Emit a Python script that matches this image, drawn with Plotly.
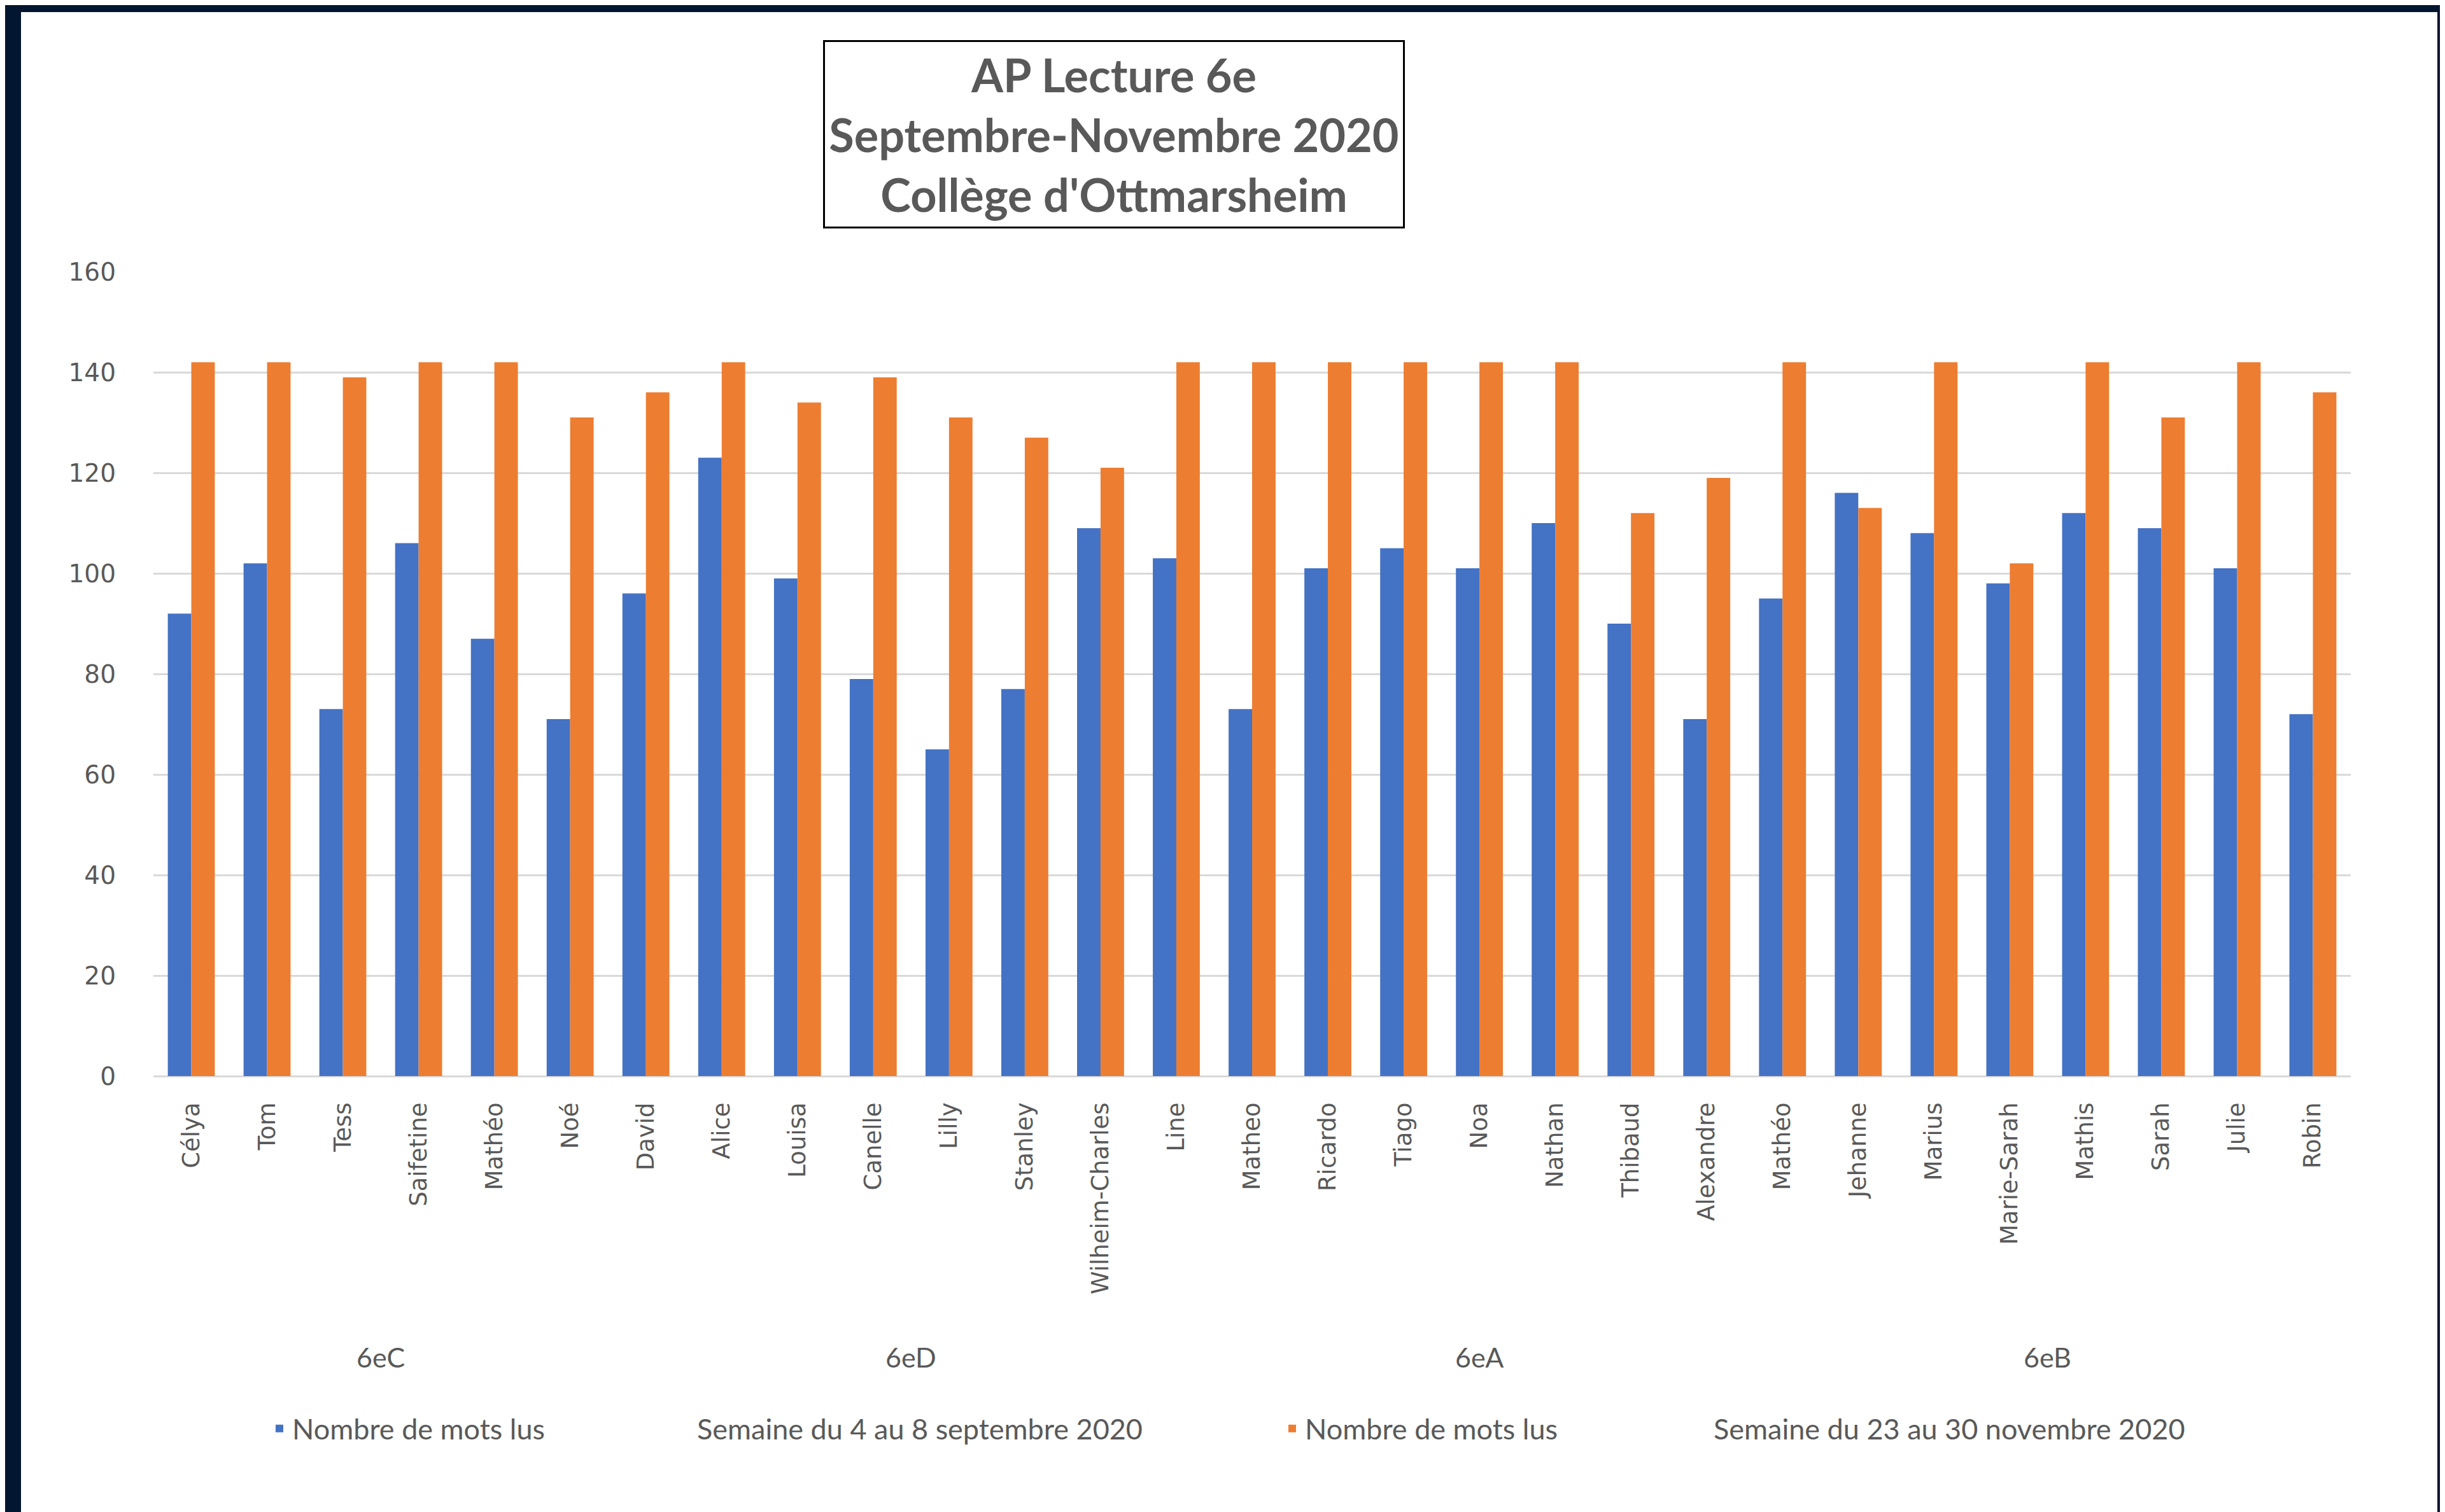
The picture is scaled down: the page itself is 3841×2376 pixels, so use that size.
import plotly.graph_objects as go

# ---------------- data ----------------
students = ["Célya", "Tom", "Tess", "Saifetine", "Mathéo", "Noé",
            "David", "Alice", "Louisa", "Canelle", "Lilly", "Stanley", "Wilheim-Charles", "Line",
            "Matheo", "Ricardo", "Tiago", "Noa", "Nathan", "Thibaud", "Alexandre",
            "Mathéo", "Jehanne", "Marius", "Marie-Sarah", "Mathis", "Sarah", "Julie", "Robin"]
classes = ["6eC", "6eD", "6eA", "6eB"]
class_sizes = [6, 8, 7, 8]
sept_words = [92, 102, 73, 106, 87, 71,
              96, 123, 99, 79, 65, 77, 109, 103,
              73, 101, 105, 101, 110, 90, 71,
              95, 116, 108, 98, 112, 109, 101, 72]
nov_words = [142, 142, 139, 142, 142, 131,
             136, 142, 134, 139, 131, 127, 121, 142,
             142, 142, 142, 142, 142, 112, 119,
             142, 113, 142, 102, 142, 131, 142, 136]
series_label = "Nombre de mots lus"
week_labels = ["Semaine du 4 au 8 septembre 2020", "Semaine du 23 au 30 novembre 2020"]
y_ticks = [0, 20, 40, 60, 80, 100, 120, 140, 160]
title_lines = ["AP Lecture 6e", "Septembre-Novembre 2020", "Collège d'Ottmarsheim"]

# ---------------- styling ----------------
W, H = 3841, 2376
ML, MR, MT, MB = 233, 156, 419, 693
BLUE, ORANGE = "#4472C4", "#ED7D31"
TXT = "#595959"
DARK = "#02162F"
GRID = "#D9D9D9"

pw = W - ML - MR
ph = H - MT - MB


def px_x(X):
    return (X - ML) / pw


def px_y(Y):
    return (H - MB - Y) / ph


xpos = list(range(len(students)))

fig = go.Figure()
fig.add_trace(go.Bar(x=xpos, y=sept_words, name=series_label,
                     marker=dict(color=BLUE, line=dict(width=0))))
fig.add_trace(go.Bar(x=xpos, y=nov_words, name=series_label,
                     marker=dict(color=ORANGE, line=dict(width=0))))

# white card over dark frame
fig.add_shape(type="rect", xref="paper", yref="paper", layer="below",
              x0=px_x(25), x1=px_x(3821), y0=px_y(H + 5), y1=px_y(11),
              fillcolor="white", line=dict(width=0))

annotations = []
# title box
annotations.append(dict(
    xref="paper", yref="paper", x=px_x(1742), y=px_y(203), xanchor="center", yanchor="middle",
    text="<br>".join(title_lines), showarrow=False, align="center", valign="middle",
    font=dict(family="Lato", size=72, color=TXT, weight="bold"),
    width=904, height=286, borderpad=2, bordercolor="black", borderwidth=3,
    bgcolor="white"))

# class group labels
start = 0
for cls, n in zip(classes, class_sizes):
    center = start + (n - 1) / 2
    annotations.append(dict(
        xref="x", yref="paper", x=center, y=px_y(2124), xanchor="center", yanchor="middle",
        text=cls, showarrow=False, font=dict(family="Lato", size=43, color=TXT)))
    start += n

# legend second-level labels
for lbl, X in zip(week_labels, [1085, 2682]):
    annotations.append(dict(
        xref="paper", yref="paper", x=px_x(X), y=px_y(2237), xanchor="left", yanchor="middle",
        text=lbl, showarrow=False, font=dict(family="Lato", size=45, color=TXT)))

fig.update_layout(
    width=W, height=H,
    margin=dict(l=ML, r=MR, t=MT, b=MB, autoexpand=False),
    paper_bgcolor=DARK, plot_bgcolor="white",
    barmode="group", bargap=0.38, bargroupgap=0.0,
    showlegend=True,
    legend=dict(orientation="h", x=px_x(411), y=px_y(2237), xanchor="left", yanchor="middle",
                entrywidth=1546, entrywidthmode="pixels",
                font=dict(family="Lato", size=45, color=TXT), bgcolor="rgba(0,0,0,0)",
                traceorder="normal"),
    annotations=annotations,
    xaxis=dict(range=[-0.5, len(students) - 0.5], tickmode="array", tickvals=xpos,
               ticktext=students, tickangle=-90, ticklabelstandoff=33,
               tickfont=dict(family="DejaVu Sans", size=37, color=TXT),
               showgrid=False, zeroline=False, showline=False, ticks=""),
    yaxis=dict(range=[0, 160], tickmode="array", tickvals=y_ticks,
               tickfont=dict(family="DejaVu Sans", size=39, color=TXT),
               showgrid=True, gridcolor=GRID, gridwidth=3,
               zeroline=True, zerolinecolor=GRID, zerolinewidth=3,
               showline=False, ticks="", ticklabelstandoff=58),
)

fig.write_html("out.html")
